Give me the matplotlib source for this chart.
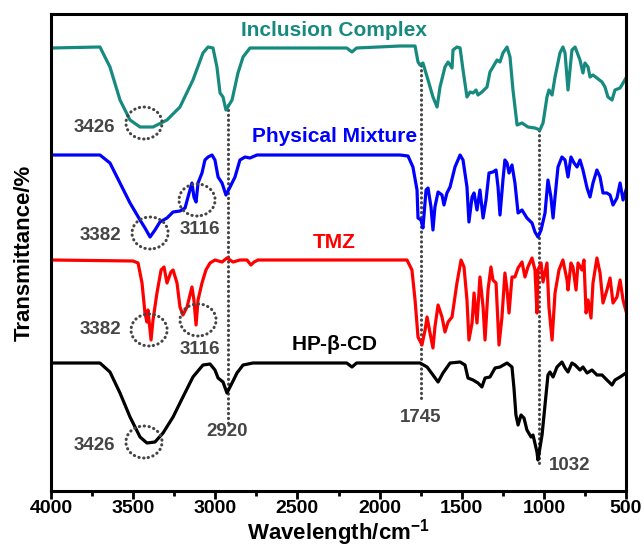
import matplotlib
matplotlib.use('Agg')
import matplotlib.pyplot as plt
from matplotlib.patches import Ellipse

plt.rcParams['font.family'] = ['Liberation Sans', 'DejaVu Sans']
plt.rcParams['font.weight'] = 'bold'
plt.rcParams['mathtext.fontset'] = 'custom'
plt.rcParams['mathtext.rm'] = 'Liberation Sans'
plt.rcParams['mathtext.bf'] = 'Liberation Sans:bold'

# 스펙트럼 데이터 (wavenumber, 상대 투과율 - 오프셋 포함)
ic_wn = [4000, 3702, 3641, 3580, 3519, 3458, 3379, 3294, 3215, 3136, 3075, 3044, 3014, 2990, 2971,
         2953, 2935, 2898, 2862, 2831, 2789, 2200, 2168, 2140, 1876, 1784, 1766, 1754, 1736, 1705,
         1675, 1650, 1632, 1602, 1583, 1559, 1553, 1529, 1510, 1492, 1468, 1449, 1431, 1413, 1401,
         1377, 1346, 1328, 1310, 1285, 1267, 1249, 1224, 1206, 1188, 1163, 1133, 1097, 1054, 1024,
         1005, 981, 969, 950, 932, 902, 884, 871, 853, 829, 810, 780, 762, 750, 731, 719, 701, 677,
         646, 628, 610, 585, 567, 536, 500]
ic_t = [443, 444, 424, 391, 371, 364, 364, 371, 384, 411, 438, 444, 443, 424, 398,
        394, 381, 391, 418, 434, 443, 443, 439, 443, 445, 445, 429, 426, 428, 411,
        394, 384, 404, 424, 429, 423, 441, 444, 443, 421, 394, 399, 398, 401, 396,
        399, 404, 419, 424, 431, 429, 438, 444, 434, 401, 366, 368, 364, 363, 361,
        368, 394, 401, 396, 414, 438, 444, 438, 401, 441, 444, 431, 418, 428, 424, 414, 416, 413,
        409, 404, 394, 391, 401, 403, 413]

pm_wn = [4000, 3702, 3641, 3580, 3519, 3458, 3428, 3397, 3367, 3337, 3294, 3257, 3215, 3184, 3166,
         3142, 3130, 3117, 3105, 3081, 3063, 3044, 3020, 3002, 2983, 2959, 2935, 2910, 2880, 2850,
         2819, 2789, 2746, 1876, 1827, 1797, 1772, 1766, 1748, 1736, 1717, 1705, 1687, 1675, 1663,
         1644, 1620, 1608, 1590, 1571, 1541, 1510, 1492, 1468, 1456, 1437, 1425, 1407, 1389, 1370,
         1352, 1334, 1310, 1291, 1279, 1267, 1249, 1237, 1224, 1212, 1194, 1176, 1157, 1133, 1103,
         1072, 1054, 1036, 1017, 993, 975, 957, 944, 932, 914, 890, 871, 853, 835, 816, 798, 780,
         762, 737, 719, 701, 677, 658, 640, 616, 597, 579, 555, 536, 518, 500]
pm_t = [336, 336, 328, 308, 288, 271, 263, 254, 261, 269, 273, 279, 280, 283, 294,
        308, 294, 289, 308, 318, 331, 334, 336, 331, 314, 308, 296, 304, 314, 331,
        334, 333, 336, 336, 335, 324, 301, 273, 271, 263, 301, 303, 284, 261, 284,
        299, 296, 286, 298, 304, 324, 336, 331, 304, 269, 294, 298, 281, 301, 273,
        291, 318, 319, 321, 304, 276, 311, 331, 328, 318, 326, 308, 278, 281, 273,
        268, 259, 254, 261, 278, 311, 294, 273, 294, 324, 334, 331, 314, 334, 328, 324, 331,
        321, 303, 294, 308, 321, 314, 298, 298, 296, 286, 293, 308, 291, 301]

tmz_wn = [4000, 3501, 3470, 3446, 3428, 3416, 3410, 3391, 3379, 3355, 3330, 3312, 3294, 3270, 3257,
          3233, 3215, 3197, 3172, 3142, 3130, 3117, 3105, 3081, 3057, 3032, 3002, 2959, 2929, 2892,
          2850, 2807, 2783, 2764, 2740, 1876, 1833, 1803, 1784, 1766, 1742, 1723, 1711, 1693, 1675,
          1663, 1644, 1620, 1602, 1583, 1559, 1529, 1504, 1486, 1468, 1456, 1437, 1425, 1407, 1389,
          1370, 1358, 1340, 1322, 1310, 1291, 1273, 1255, 1237, 1224, 1212, 1194, 1176, 1157, 1133,
          1115, 1097, 1072, 1054, 1042, 1036, 1017, 1005, 981, 969, 950, 932, 908, 884, 859, 853,
          835, 823, 804, 792, 768, 756, 743, 731, 713, 701, 677, 658, 640, 616, 597, 579, 555, 536,
          518, 500]
tmz_t = [231, 230, 228, 208, 178, 169, 181, 151, 171, 198, 221, 224, 208, 219, 221,
         208, 184, 176, 184, 204, 191, 166, 191, 208, 221, 228, 231, 229, 233, 229,
         231, 231, 226, 229, 231, 231, 231, 221, 191, 154, 146, 161, 174, 158, 143,
         164, 186, 174, 159, 169, 174, 208, 231, 224, 191, 151, 168, 198, 168, 214,
         184, 151, 201, 224, 211, 208, 146, 174, 218, 201, 178, 214, 214, 223, 229,
         214, 224, 233, 221, 178, 221, 228, 209, 228, 184, 151, 198, 221, 231, 211, 201,
         228, 224, 201, 228, 221, 231, 178, 191, 173, 208, 233, 218, 188, 201, 213, 188, 194, 211,
         191, 180]

hp_wn = [4000, 3702, 3641, 3580, 3519, 3458, 3416, 3367, 3318, 3257, 3197, 3136, 3075, 3032, 3002,
         2983, 2953, 2929, 2898, 2868, 2831, 2770, 2200, 2168, 2140, 1876, 1754, 1711, 1675, 1644,
         1614, 1571, 1510, 1480, 1462, 1431, 1401, 1377, 1358, 1328, 1297, 1267, 1224, 1194, 1182,
         1170, 1157, 1139, 1121, 1103, 1078, 1066, 1042, 1036, 1011, 993, 975, 963, 944, 920, 890,
         871, 853, 829, 810, 780, 762, 737, 707, 677, 646, 616, 585, 567, 536, 500]
hp_t = [128, 128, 119, 98, 74, 54, 48, 49, 58, 74, 94, 114, 126, 127, 121,
        113, 109, 98, 108, 118, 126, 128, 128, 124, 128, 128, 128, 124, 116, 109,
        118, 128, 129, 126, 113, 111, 108, 104, 113, 114, 123, 124, 128, 124, 103,
        76, 66, 76, 73, 61, 54, 56, 39, 31, 56, 86, 116, 119, 114, 124, 129,
        123, 119, 128, 126, 121, 124, 118, 121, 116, 116, 111, 106, 111, 114, 118]

names = ['Inclusion Complex', 'Physical Mixture', 'TMZ', r'HP-$\mathbf{\beta}$-CD']
colors = ['#178a80', '#0000ff', '#ff0000', '#000000']
name_y = [461, 354, 249, 146]

# 피크 표시
peak_labels = ['3426', '3382', '3116', '3382', '3116', '3426', '2920', '1745', '1032']
peak_x = [3738, 3702, 3093, 3702, 3093, 3738, 2929, 1748, 841]
peak_y = [364, 256, 261, 161, 141, 46, 59, 74, 26]
circ_x = [3434, 3397, 3111, 3403, 3105, 3434]
circ_y = [368, 258, 291, 161, 171, 49]
vline_x = [2920, 1745, 1032]
vline_lo = [68, 93, 28]
vline_hi = [388, 428, 363]

fig = plt.figure(figsize=(6.44, 5.55), dpi=100)
ax = fig.add_axes([51/644, 1-491/555, 575/644, 477/555])

gray = '#454545'
for x, lo, hi in zip(vline_x, vline_lo, vline_hi):
    ax.plot([x, x], [lo, hi], color=gray, lw=2.2, ls=(0, (0.1, 1.5)),
            dash_capstyle='round', zorder=1)

for wn, t, c in zip([ic_wn, pm_wn, tmz_wn, hp_wn], [ic_t, pm_t, tmz_t, hp_t], colors):
    ax.plot(wn, t, color=c, lw=2.3, zorder=2)

for n, c, y in zip(names, colors, name_y):
    ax.text(2275, y, n, color=c, fontsize=15, fontweight='bold', ha='center', va='center')

for cx, cy in zip(circ_x, circ_y):
    ax.add_patch(Ellipse((cx, cy), 220, 32, fill=False, ec=gray, lw=2.2,
                         ls=(0, (0.1, 1.5)), capstyle='round', zorder=3))

for s, x, y in zip(peak_labels, peak_x, peak_y):
    ax.text(x, y, s, color=gray, fontsize=13.5, fontweight='bold', ha='center', va='center')

ax.set_xlim(4000, 500)
ax.set_ylim(0, 477)
ax.set_xticks([4000, 3500, 3000, 2500, 2000, 1500, 1000, 500])
ax.set_xticks(range(3750, 500, -500), minor=True)
ax.set_yticks([])
ax.tick_params(axis='x', which='major', direction='out', length=5.5, width=2, labelsize=14, pad=1)
ax.tick_params(axis='x', which='minor', direction='out', length=3.5, width=2)
for lab in ax.get_xticklabels():
    lab.set_fontweight('bold')
for sp in ax.spines.values():
    sp.set_linewidth(2.2)

ax.set_xlabel(r'Wavelength/cm$^{\mathbf{-1}}$', fontsize=16, fontweight='bold', labelpad=0)
ax.set_ylabel('Transmittance/%', fontsize=16, fontweight='bold', labelpad=12)

fig.savefig('out.png', dpi=100)
